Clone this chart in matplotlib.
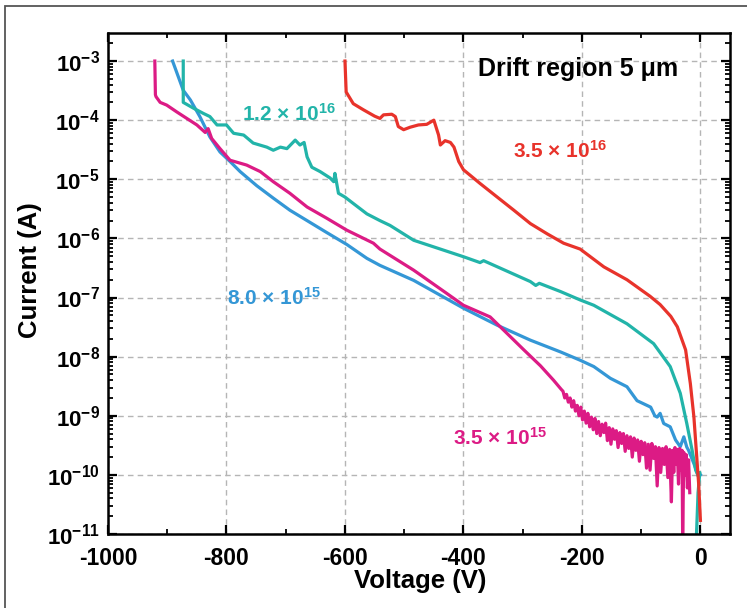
import matplotlib
matplotlib.use('Agg')
import matplotlib.pyplot as plt
from matplotlib.patches import Rectangle
from matplotlib.ticker import MultipleLocator, LogLocator, FixedLocator, FuncFormatter
import numpy as np

plt.rcParams['font.family'] = ['Liberation Sans', 'DejaVu Sans']
plt.rcParams['font.weight'] = 'bold'
plt.rcParams['mathtext.fontset'] = 'custom'
plt.rcParams['mathtext.rm'] = 'Liberation Sans:bold'
plt.rcParams['mathtext.bf'] = 'Liberation Sans:bold'
plt.rcParams['mathtext.default'] = 'bf'
plt.rcParams['axes.unicode_minus'] = False

# I-V sweeps, one per drift doping (cm^-3)
v_35e16 = [-600, -598, -586, -569, -550, -541, -535, -521, -515, -510, -501, -490,
           -476, -462, -450, -442, -439, -431, -422, -416, -408, -400, -372, -343,
           -315, -287, -259, -231, -203, -163, -124, -85, -68, -50, -39, -25, -17,
           -11, -7, -3, 0]
i_35e16 = [1.0e-3, 3.0e-4, 1.9e-4, 1.5e-4, 1.17e-4, 1.07e-4, 1.23e-4, 1.26e-4, 1.15e-4,
           7.8e-5, 6.9e-5, 7.6e-5, 8.3e-5, 8.5e-5, 1.0e-4, 5.6e-5, 3.8e-5, 4.5e-5,
           4.2e-5, 3.5e-5, 2.0e-5, 1.45e-5, 8.5e-6, 5.0e-6, 3.0e-6, 1.78e-6, 1.2e-6,
           8.3e-7, 6.6e-7, 3.3e-7, 2.0e-7, 1.05e-7, 7.6e-8, 4.8e-8, 3.2e-8, 1.3e-8,
           3.5e-9, 9.5e-10, 2.6e-10, 7.1e-11, 1.7e-11]

v_12e16 = [-873, -873, -856, -839, -828, -816, -800, -788, -771, -755, -732, -721,
           -709, -698, -684, -676, -669, -664, -656, -642, -625, -619, -617, -611,
           -600, -586, -563, -541, -524, -484, -400, -372, -366, -287, -278, -272,
           -236, -203, -180, -124, -79, -51, -34, -23, -14, -8, -3, -1, -4, -7]
i_12e16 = [1.0e-3, 2.0e-4, 1.6e-4, 1.3e-4, 1.15e-4, 8.3e-5, 8.3e-5, 6.0e-5, 5.6e-5,
           4.1e-5, 3.5e-5, 3.1e-5, 3.5e-5, 3.3e-5, 4.6e-5, 3.8e-5, 4.2e-5, 2.4e-5,
           1.6e-5, 1.35e-5, 1.05e-5, 9.1e-6, 1.26e-5, 5.8e-6, 5.0e-6, 3.9e-6, 2.6e-6,
           2.0e-6, 1.66e-6, 9.3e-7, 4.9e-7, 3.9e-7, 4.2e-7, 1.86e-7, 1.6e-7, 1.74e-7,
           1.26e-7, 9.1e-8, 7.4e-8, 3.6e-8, 1.66e-8, 6.8e-9, 2.4e-9, 7.4e-10, 2.6e-10,
           1.2e-10, 9.3e-11, 1.1e-10, 5.0e-11, 8e-12]

v_80e15 = [-891, -873, -861, -845, -828, -811, -794, -777, -749, -721, -693, -664,
           -631, -597, -563, -541, -484, -400, -343, -287, -236, -203, -180, -152,
           -124, -107, -84, -77, -73, -68, -62, -51, -42, -34, -28, -23, -20, -11,
           -3, 0]
i_80e15 = [1.0e-3, 3.2e-4, 2.2e-4, 1.15e-4, 5.2e-5, 2.9e-5, 2.0e-5, 1.35e-5, 7.8e-6,
           4.8e-6, 3.0e-6, 2.0e-6, 1.26e-6, 7.9e-7, 4.6e-7, 3.5e-7, 1.95e-7, 6.6e-8,
           3.4e-8, 1.9e-8, 1.2e-8, 8.7e-9, 6.8e-9, 4.3e-9, 3.1e-9, 1.8e-9, 1.4e-9,
           1.0e-9, 9.5e-10, 1.1e-9, 7.4e-10, 6.5e-10, 3.9e-10, 3.0e-10, 4.4e-10,
           2.95e-10, 2.6e-10, 1.55e-10, 9.3e-11, 1.0e-10]

v_35e15 = [-921, -920, -919, -912, -901, -884, -867, -850, -836, -831, -825, -811,
           -794, -766, -743, -721, -693, -664, -631, -597, -552, -541, -484, -428,
           -400, -355, -332, -298, -270, -248, -235,
           -232, -229, -226, -223, -220, -217, -214, -211, -208, -205, -202, -199,
           -196, -193, -190, -187, -184, -181, -178, -175, -172, -169, -166, -163,
           -160, -157, -154, -151, -148, -145, -142, -139, -136, -133, -130, -127,
           -124, -121, -118, -115, -112, -109, -106, -103, -100, -97, -94, -91,
           -88, -85, -82, -79, -76, -73, -70, -67, -64, -61, -58, -55, -52, -49,
           -47, -45, -43, -41, -39, -37, -35, -33, -31, -30, -28, -26, -24, -22,
           -20, -18]
i_35e15 = [1.0e-3, 2.7e-4, 2.5e-4, 2.0e-4, 1.8e-4, 1.38e-4, 1.07e-4, 8.3e-5, 6.2e-5,
           7.2e-5, 4.9e-5, 3.3e-5, 2.1e-5, 1.74e-5, 1.35e-5, 9.1e-6, 5.8e-6, 3.4e-6,
           2.2e-6, 1.38e-6, 8.3e-7, 6.6e-7, 2.9e-7, 1.17e-7, 7.4e-8, 4.7e-8, 2.8e-8,
           1.3e-8, 7.0e-9, 4.0e-9, 2.8e-9,
           2.6e-9, 2.0e-9, 2.3e-9, 1.7e-9, 2.0e-9, 1.4e-9, 1.8e-9, 1.2e-9, 1.5e-9,
           1.0e-9, 1.4e-9, 8.5e-10, 1.2e-9, 7.5e-10, 1.1e-9, 6.5e-10, 9.5e-10,
           5.8e-10, 9.0e-10, 5.0e-10, 8.0e-10, 4.6e-10, 7.2e-10, 5.2e-10, 7.5e-10,
           3.8e-10, 6.3e-10, 3.3e-10, 6.0e-10, 4.0e-10, 5.6e-10, 2.9e-10, 5.2e-10,
           3.4e-10, 5.0e-10, 2.5e-10, 4.6e-10, 2.8e-10, 4.4e-10, 2.0e-10, 4.2e-10,
           2.6e-10, 3.9e-10, 1.7e-10, 3.7e-10, 2.2e-10, 3.5e-10, 1.3e-10, 3.3e-10,
           1.2e-10, 3.4e-10, 1.9e-10, 3.0e-10, 6.5e-11, 2.9e-10, 1.1e-10, 2.8e-10,
           1.5e-10, 3.0e-10, 9e-11, 2.7e-10, 3.5e-11, 2.6e-10, 1.1e-10, 2.9e-10,
           1.5e-10, 2.7e-10, 7e-11, 2.8e-10, 1.2e-10, 2.6e-10, 8e-12, 2.4e-10,
           1.0e-10, 2.2e-10, 6e-11, 1.8e-10, 5e-11]

c_red = '#e8332b'
c_teal = '#22b4a9'
c_blue = '#3497d6'
c_pink = '#dc1b85'

fig = plt.figure(figsize=(7.47, 6.08), dpi=100)
ax = fig.add_axes([0.1446, 0.1217, 0.8327, 0.824])

lw = 2.3
ax.plot(v_80e15, i_80e15, color=c_blue, lw=lw)
ax.plot(v_35e15, i_35e15, color=c_pink, lw=lw)
ax.plot(v_12e16, i_12e16, color=c_teal, lw=lw)
ax.plot(v_35e16, i_35e16, color=c_red, lw=lw)

ax.set_yscale('log')
ax.set_xlim(-1000, 50)
ax.set_ylim(1e-11, 2.98e-3)

ax.xaxis.set_major_locator(FixedLocator([-1000, -800, -600, -400, -200, 0]))
ax.xaxis.set_minor_locator(MultipleLocator(100))
ax.yaxis.set_major_locator(LogLocator(base=10, numticks=20))
ax.yaxis.set_minor_locator(LogLocator(base=10, subs=np.arange(2, 10), numticks=20))
ax.yaxis.set_major_formatter(FuncFormatter(lambda y, p: '$10^{%d}$' % round(np.log10(y))))

ax.tick_params(which='both', direction='in', top=True, right=True)
ax.tick_params(axis='x', labelsize=16.5, pad=9)
ax.tick_params(axis='y', labelsize=16, pad=6)
ax.tick_params(which='major', length=6.5, width=1.6)
ax.tick_params(which='minor', length=3.5, width=1.3)
for s in ax.spines.values():
    s.set_linewidth(1.8)

ax.grid(True, which='major', color='#b5b5b5', linestyle=(0, (4, 3)), linewidth=1)
ax.set_axisbelow(True)

ax.text(-375, 5.6e-4, 'Drift region 5 μm', fontsize=18, color='black', va='baseline')
ax.text(-316, 2.3e-5, '3.5 × 10$^{16}$', fontsize=15, color=c_red, va='baseline')
ax.text(-774, 9.7e-5, '1.2 × 10$^{16}$', fontsize=15, color=c_teal, va='baseline')
ax.text(-799, 7.4e-8, '8.0 × 10$^{15}$', fontsize=15, color=c_blue, va='baseline')
ax.text(-417, 3.2e-10, '3.5 × 10$^{15}$', fontsize=15, color=c_pink, va='baseline')

fig.text(30 / 747, 1 - 270 / 608, 'Current (A)', rotation=90, fontsize=18.5,
         ha='center', va='center')
fig.text(420 / 747, 1 - 581 / 608, 'Voltage (V)', fontsize=18.5, ha='center', va='center')

# frame around the figure (open on the right and bottom)
fig.patches.append(Rectangle((5 / 747, -0.5), 2, 0.5 + 1 - 6 / 608, transform=fig.transFigure,
                             fill=False, edgecolor='#555555', lw=1.3))

fig.savefig('out.png', dpi=100)
